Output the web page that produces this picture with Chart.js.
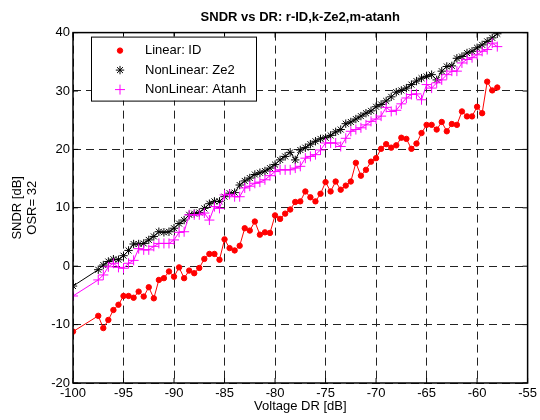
<!DOCTYPE html>
<html>
<head>
<meta charset="utf-8">
<script src="https://cdn.jsdelivr.net/npm/chart.js@4.4.1/dist/chart.umd.min.js"></script>
<style>
  html, body { margin: 0; padding: 0; background: #ffffff; }
  #wrap { width: 540px; height: 420px; position: relative; }
</style>
</head>
<body>
<div id="wrap"><canvas id="c" width="540" height="420"></canvas></div>
<script>
// ---- data ----
const xValues = [-100, -97.5, -97, -96.5, -96, -95.5, -95, -94.5, -94, -93.5,
  -93, -92.5, -92, -91.5, -91, -90.5, -90, -89.5, -89, -88.5,
  -88, -87.5, -87, -86.5, -86, -85.5, -85, -84.5, -84, -83.5,
  -83, -82.5, -82, -81.5, -81, -80.5, -80, -79.5, -79, -78.5,
  -78, -77.5, -77, -76.5, -76, -75.5, -75, -74.5, -74, -73.5,
  -73, -72.5, -72, -71.5, -71, -70.5, -70, -69.5, -69, -68.5,
  -68, -67.5, -67, -66.5, -66, -65.5, -65, -64.5, -64, -63.5,
  -63, -62.5, -62, -61.5, -61, -60.5, -60, -59.5, -59, -58.5, -58];

const linearID = [-11.2, -8.5, -10.6, -9.2, -7.5, -6.6, -5.1, -5.1, -5.4, -4.35,
  -5.2, -3.6, -5.5, -2.35, -2.05, -0.9, -1.8, -0.2, -2.05, -0.75,
  -1.2, -0.3, 1.25, 2.1, 2.1, 1.1, 4.6, 3.1, 2.7, 3.5,
  6.5, 6.1, 7.65, 5.4, 5.8, 5.7, 8.7, 8.1, 9.0, 9.7,
  11.0, 11.1, 12.8, 11.8, 11.1, 12.4, 14.4, 12.8, 14.5, 13.1,
  13.8, 14.5, 17.7, 15.5, 16.5, 17.9, 18.5, 20.1, 20.9, 20.3,
  20.7, 22.0, 21.8, 20.1, 21.0, 22.8, 24.2, 24.2, 23.4, 24.7,
  23.1, 24.35, 24.2, 26.5, 25.65, 25.65, 27.3, 26.2, 31.6, 30.1, 30.6];

const nonLinearZe2 = [-3.4, -0.6, 0.2, 0.8, 1.2, 1.1, 1.8, 2.7, 3.8, 3.8,
  3.9, 4.5, 5.1, 5.9, 5.8, 5.9, 6.5, 7.3, 7.9, 8.8,
  9.0, 9.2, 9.9, 10.7, 11.1, 11.1, 11.9, 12.5, 12.6, 13.9,
  14.6, 15.1, 15.7, 16.0, 16.3, 16.8, 17.4, 18.2, 18.8, 19.5,
  18.2, 19.9, 20.3, 20.9, 21.4, 21.8, 22.0, 22.4, 23.0, 23.4,
  24.4, 24.7, 25.2, 25.7, 26.2, 26.6, 27.3, 27.7, 28.3, 29.0,
  29.8, 30.1, 30.5, 31.1, 31.7, 32.2, 32.5, 32.8, 31.9, 33.4,
  34.2, 34.3, 35.6, 35.9, 36.5, 36.8, 37.4, 37.9, 38.5, 39.1, 39.8];

const nonLinearAtanh = [-5.1, -2.35, -1.5, -0.1, 0.5, -0.2, -0.35, 0.5, 1.0, 3.0,
  2.8, 2.8, 3.4, 3.9, 3.9, 3.9, 4.5, 5.8, 5.9, 8.8,
  8.8, 8.8, 9.1, 7.9, 10.2, 9.9, 12.2, 12.3, 11.9, 11.9,
  13.4, 13.7, 14.2, 14.4, 14.8, 15.5, 16.2, 16.5, 16.5, 16.5,
  16.8, 17.1, 18.5, 18.8, 19.1, 19.9, 21.1, 21.1, 21.1, 20.5,
  21.9, 23.1, 23.4, 23.7, 24.2, 24.8, 25.2, 25.7, 27.2, 26.5,
  26.7, 27.8, 28.8, 29.4, 29.5, 28.5, 31.1, 30.5, 31.4, 31.9,
  32.8, 33.4, 33.4, 34.8, 35.4, 35.7, 36.2, 36.8, 37.1, 38.2, 37.6];

const seriesLabels = ['Linear: ID', 'NonLinear: Ze2', 'NonLinear: Atanh'];
const xTickValues = [-100, -95, -90, -85, -80, -75, -70, -65, -60, -55];
const yTickValues = [-20, -10, 0, 10, 20, 30, 40];
const titleText = 'SNDR vs DR: r-ID,k-Ze2,m-atanh';
const xTitle = 'Voltage DR [dB]';
const yTitle = ['SNDR [dB]', 'OSR= 32'];

// ---- chart ----
const FONT = '"Liberation Sans", Arial, Helvetica, sans-serif';
Chart.defaults.font.family = FONT;
Chart.defaults.font.size = 13;
Chart.defaults.color = '#000';

function toXY(ys) { return ys.map((v, i) => ({ x: xValues[i], y: v })); }

const markers = [
  { color: '#ff0000', style: 'circle', radius: 2.7 },
  { color: '#000000', style: 'star', radius: 4.2 },
  { color: '#ff00ff', style: 'cross', radius: 5 }
];

function drawMarker(ctx, m, x, y) {
  ctx.save();
  ctx.strokeStyle = m.color;
  ctx.fillStyle = m.color;
  ctx.lineWidth = 1;
  const r = m.radius;
  ctx.beginPath();
  if (m.style === 'circle') {
    ctx.arc(x, y, r, 0, Math.PI * 2);
    ctx.fill(); ctx.stroke();
  } else if (m.style === 'star') {
    ctx.moveTo(x - r, y); ctx.lineTo(x + r, y);
    ctx.moveTo(x, y - r); ctx.lineTo(x, y + r);
    const d = r * Math.SQRT1_2;
    ctx.moveTo(x - d, y - d); ctx.lineTo(x + d, y + d);
    ctx.moveTo(x - d, y + d); ctx.lineTo(x + d, y - d);
    ctx.stroke();
  } else {
    ctx.moveTo(x - r, y); ctx.lineTo(x + r, y);
    ctx.moveTo(x, y - r); ctx.lineTo(x, y + r);
    ctx.stroke();
  }
  ctx.restore();
}

const framePlugin = {
  id: 'frame',
  afterDraw(chart) {
    const { ctx, chartArea: a, scales } = chart;
    ctx.save();
    ctx.strokeStyle = '#000';
    ctx.lineWidth = 1.5;
    ctx.strokeRect(a.left, a.top, a.right - a.left, a.bottom - a.top);
    ctx.lineWidth = 1;
    ctx.beginPath();
    const tl = 5;
    xTickValues.forEach(v => {
      const px = scales.x.getPixelForValue(v);
      ctx.moveTo(px, a.bottom); ctx.lineTo(px, a.bottom - tl);
      ctx.moveTo(px, a.top); ctx.lineTo(px, a.top + tl);
    });
    yTickValues.forEach(v => {
      const py = scales.y.getPixelForValue(v);
      ctx.moveTo(a.left, py); ctx.lineTo(a.left + tl, py);
      ctx.moveTo(a.right, py); ctx.lineTo(a.right - tl, py);
    });
    ctx.stroke();

    // legend box
    const bx = a.left + 18, by = a.top + 4, bw = 165, bh = 64;
    ctx.fillStyle = '#fff';
    ctx.fillRect(bx, by, bw, bh);
    ctx.strokeStyle = '#000';
    ctx.lineWidth = 1;
    ctx.strokeRect(bx + 0.5, by + 0.5, bw, bh);
    ctx.font = '13px ' + FONT;
    ctx.textBaseline = 'middle';
    ctx.textAlign = 'left';
    ctx.fillStyle = '#000';
    seriesLabels.forEach((lab, i) => {
      const ry = by + 14 + i * 19.5;
      drawMarker(ctx, markers[i], bx + 29, ry);
      ctx.fillStyle = '#000';
      ctx.fillText(lab, bx + 54, ry);
    });
    ctx.restore();
  }
};

const ds = [linearID, nonLinearZe2, nonLinearAtanh].map((ys, i) => ({
  label: seriesLabels[i],
  data: toXY(ys),
  borderColor: markers[i].color,
  backgroundColor: markers[i].color,
  borderWidth: 1,
  pointStyle: markers[i].style,
  pointRadius: markers[i].radius,
  pointBorderWidth: 1,
  pointHoverRadius: markers[i].radius,
  tension: 0,
  fill: false,
  order: 3 - i
}));

new Chart(document.getElementById('c'), {
  type: 'line',
  data: { datasets: ds },
  options: {
    responsive: false,
    animation: false,
    events: [],
    layout: { padding: { left: 0, right: 10, top: 0, bottom: 0 } },
    plugins: {
      legend: { display: false },
      tooltip: { enabled: false },
      title: {
        display: true,
        text: titleText,
        fullSize: false,
        color: '#000',
        font: { size: 13, weight: 'bold', family: FONT },
        padding: { top: 10, bottom: 7 }
      }
    },
    scales: {
      x: {
        type: 'linear',
        min: -100, max: -55,
        afterFit(s) { s.height = 37; },
        afterBuildTicks(s) { s.ticks = xTickValues.map(v => ({ value: v })); },
        ticks: { padding: 3, color: '#000', maxRotation: 0, autoSkip: false, font: { size: 13 } },
        grid: { color: '#222', lineWidth: 1, drawTicks: false },
        border: { display: false, dash: [8, 5] },
        title: { display: true, text: xTitle, color: '#000', font: { size: 13 }, padding: { top: 0, bottom: 6 } }
      },
      y: {
        type: 'linear',
        min: -20, max: 40,
        afterFit(s) { s.width = 73; },
        afterBuildTicks(s) { s.ticks = yTickValues.map(v => ({ value: v })); },
        ticks: { padding: 3, color: '#000', autoSkip: false, font: { size: 13 } },
        grid: { color: '#222', lineWidth: 1, drawTicks: false },
        border: { display: false, dash: [8, 5] },
        title: { display: true, text: yTitle, color: '#000', font: { size: 13, lineHeight: 1.15 }, padding: { top: 10, bottom: 0 } }
      }
    }
  },
  plugins: [framePlugin]
});
</script>
</body>
</html>
